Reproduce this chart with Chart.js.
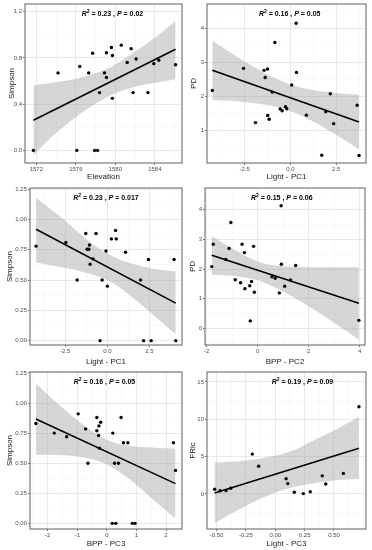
<!DOCTYPE html>
<html>
<head>
<meta charset="utf-8">
<script src="https://cdn.jsdelivr.net/npm/chart.js@4.4.0/dist/chart.umd.min.js"></script>
<style>
  html, body { margin: 0; padding: 0; background: #ffffff; }
  #grid { position: relative; width: 372px; height: 550px; }
  .panel { position: absolute; }
</style>
</head>
<body>
<div id="grid">
  <canvas id="p1" class="panel"></canvas>
  <canvas id="p2" class="panel"></canvas>
  <canvas id="p3" class="panel"></canvas>
  <canvas id="p4" class="panel"></canvas>
  <canvas id="p5" class="panel"></canvas>
  <canvas id="p6" class="panel"></canvas>
</div>
<script>
// ---- Panel 1: Elevation vs Simpson ----
const elevation = [1571.7, 1574.2, 1576.1, 1576.4, 1577.3, 1577.7, 1577.9, 1578.2, 1578.4, 1578.9, 1579.1, 1579.1,
                   1579.6, 1579.7, 1579.7, 1580.6, 1581.2, 1581.6, 1581.8, 1582.1, 1583.3, 1583.9, 1584.4, 1586.1];
const simpsonElev = [0, 0.67, 0, 0.725, 0.67, 0.84, 0, 0, 0.50, 0.67, 0.845, 0.63,
                     0.89, 0.82, 0.45, 0.91, 0.76, 0.88, 0.50, 0.79, 0.50, 0.75, 0.78, 0.74];
const fitX1 = [1571.7, 1586.1];
const fitY1 = [0.26, 0.875];
const bandX1 = [1571.7, 1574, 1576.5, 1579.5, 1582, 1584, 1586.1];
const bandHi1 = [0.565, 0.59, 0.63, 0.72, 0.855, 0.975, 1.12];
const bandLo1 = [-0.04, 0.15, 0.32, 0.475, 0.55, 0.585, 0.615];
const xTicks1 = [1572, 1576, 1580, 1584];
const yTicks1 = [0, 0.4, 0.8, 1.2];

// ---- Panel 2: Light-PC1 vs PD ----
const lightPC1a = [-4.27, -2.56, -1.91, -1.44, -1.38, -1.25, -1.24, -1.16, -1.0, -0.85, -0.56, -0.45,
                   -0.27, -0.2, 0.07, 0.31, 0.33, 0.87, 1.71, 1.93, 2.18, 2.36, 3.65, 3.75];
const pdLight = [2.17, 2.82, 1.22, 2.76, 2.55, 2.80, 1.43, 1.32, 2.12, 3.58, 1.62, 1.57,
                 1.69, 1.63, 2.33, 4.15, 2.70, 1.44, 0.26, 1.54, 2.07, 1.19, 1.73, 0.25];
const fitX2 = [-4.27, 3.75];
const fitY2 = [2.76, 1.235];
const bandX2 = [-4.27, -2.5, -1, -0.06, 1, 2.5, 3.75];
const bandHi2 = [3.63, 3.02, 2.57, 2.35, 2.20, 2.09, 2.04];
const bandLo2 = [1.89, 1.83, 1.71, 1.57, 1.32, 0.86, 0.43];
const xTicks2 = [-2.5, 0, 2.5];
const yTicks2 = [1, 2, 3, 4];

// ---- Panel 3: Light-PC1 vs Simpson ----
const lightPC1b = [-4.23, -2.46, -1.79, -1.28, -1.20, -1.10, -1.06, -1.02, -0.85, -0.67, -0.43, -0.31,
                   -0.08, 0.0, 0.24, 0.49, 0.53, 1.08, 1.97, 2.15, 2.44, 2.60, 3.96, 4.06];
const simpsonLight = [0.78, 0.81, 0.50, 0.885, 0.755, 0.755, 0.79, 0.63, 0.675, 0.885, 0, 0.50,
                      0.74, 0.45, 0.84, 0.91, 0.84, 0.73, 0.50, 0, 0.67, 0, 0.67, 0];
const fitX3 = [-4.23, 4.06];
const fitY3 = [0.92, 0.31];
const bandX3 = [-4.23, -2.5, -1, 0, 1, 2.5, 4.06];
const bandHi3 = [1.18, 0.99, 0.81, 0.72, 0.655, 0.60, 0.57];
const bandLo3 = [0.645, 0.60, 0.55, 0.50, 0.41, 0.24, 0.05];
const xTicks3 = [-2.5, 0, 2.5];
const yTicks3 = [0, 0.25, 0.5, 0.75, 1.0, 1.25];

// ---- Panel 4: BPP-PC2 vs PD ----
const bppPC2 = [-1.80, -1.74, -1.25, -1.12, -1.05, -0.88, -0.67, -0.61, -0.52, -0.50, -0.31, -0.29,
                -0.24, -0.16, -0.13, 0.56, 0.69, 0.85, 0.92, 0.93, 1.06, 1.29, 1.49, 3.97];
const pdBpp = [2.08, 2.83, 2.32, 2.69, 3.56, 1.64, 1.54, 2.83, 2.55, 1.34, 1.44, 0.26,
               1.58, 2.76, 1.22, 1.74, 1.69, 1.20, 4.12, 2.16, 1.42, 1.63, 2.12, 0.28];
const fitX4 = [-1.80, 3.97];
const fitY4 = [2.46, 0.85];
const bandX4 = [-1.80, -1, 0, 0.5, 1, 2, 3, 3.97];
const bandHi4 = [3.11, 2.69, 2.25, 2.14, 2.09, 2.06, 2.06, 2.06];
const bandLo4 = [1.81, 1.77, 1.62, 1.45, 1.25, 0.75, 0.20, -0.37];
const xTicks4 = [-2, 0, 2, 4];
const yTicks4 = [0, 1, 2, 3, 4];

// ---- Panel 5: BPP-PC3 vs Simpson ----
const bppPC3 = [-2.40, -1.78, -1.36, -0.97, -0.72, -0.64, -0.34, -0.34, -0.28, -0.27, -0.25, -0.21,
                0.18, 0.20, 0.26, 0.30, 0.39, 0.48, 0.56, 0.71, 0.86, 0.95, 2.25, 2.32];
const simpsonBpp = [0.83, 0.75, 0.72, 0.91, 0.785, 0.50, 0.88, 0.77, 0.73, 0.81, 0.625, 0.84,
                    0, 0.75, 0.50, 0, 0.50, 0.88, 0.67, 0.67, 0, 0, 0.67, 0.44];
const fitX5 = [-2.40, 2.32];
const fitY5 = [0.867, 0.33];
const bandX5 = [-2.40, -1.5, -0.75, -0.05, 0.75, 1.5, 2.32];
const bandHi5 = [1.16, 0.96, 0.81, 0.70, 0.645, 0.63, 0.62];
const bandLo5 = [0.57, 0.565, 0.545, 0.495, 0.37, 0.21, 0.04];
const xTicks5 = [-2, -1, 0, 1, 2];
const yTicks5 = [0, 0.25, 0.5, 0.75, 1.0, 1.25];

// ---- Panel 6: Light-PC3 vs FRic ----
const lightPC3 = [-0.517, -0.47, -0.42, -0.38, -0.196, -0.142, 0.092, 0.106, 0.162, 0.239, 0.298,
                  0.40, 0.43, 0.58, 0.713];
const fric = [0.62, 0.42, 0.46, 0.75, 5.33, 3.70, 2.04, 1.38, 0.22, 0.04, 0.29,
              2.42, 1.33, 2.75, 11.67];
const fitX6 = [-0.517, 0.713];
const fitY6 = [0.11, 6.12];
const bandX6 = [-0.517, -0.27, 0.0, 0.15, 0.3, 0.5, 0.713];
const bandHi6 = [4.2, 4.45, 5.1, 5.8, 6.95, 8.5, 10.3];
const bandLo6 = [-3.9, -1.75, 0.2, 0.9, 1.35, 1.8, 2.0];
const xTicks6 = [-0.5, -0.25, 0, 0.25, 0.5];
const yTicks6 = [0, 5, 10, 15];

// stat_cor labels
const r2Values = ['0.23', '0.16', '0.23', '0.15', '0.16', '0.19'];
const pValues = ['0.02', '0.05', '0.017', '0.06', '0.05', '0.09'];

const FONT = '"Liberation Sans", Arial, sans-serif';

function pairs(xs, ys) {
    return xs.map((v, i) => ({ x: v, y: ys[i] }));
}

// majors + the half-step minor breaks ggplot draws between them
function withMinors(majors, min, max) {
    const step = majors[1] - majors[0];
    const all = [];
    for (let v = majors[0] - step / 2; v <= max + 1e-9; v += step / 2) {
        if (v >= min - 1e-9) all.push(+v.toFixed(6));
    }
    return all;
}

function isMajor(majors, v) {
    return majors.some(m => Math.abs(m - v) < 1e-6);
}

// frame + R2/P label drawn on top of the plot
const panelDecor = {
    id: 'panelDecor',
    afterDatasetsDraw(chart, args, opts) {
        const { ctx, chartArea: a } = chart;
        ctx.save();
        ctx.strokeStyle = '#7a7a7a';
        ctx.lineWidth = 1.2;
        ctx.strokeRect(a.left, a.top, a.right - a.left, a.bottom - a.top);

        const parts = [
            { t: 'R', f: 'italic bold 7px ' + FONT, dy: 0 },
            { t: '2', f: 'bold 5px ' + FONT, dy: -3 },
            { t: ' = ' + opts.r2 + ' , ', f: 'bold 7px ' + FONT, dy: 0 },
            { t: 'P', f: 'italic bold 7px ' + FONT, dy: 0 },
            { t: ' = ' + opts.p, f: 'bold 7px ' + FONT, dy: 0 }
        ];
        let total = 0;
        parts.forEach(p => { ctx.font = p.f; p.w = ctx.measureText(p.t).width; total += p.w; });
        let x = a.left + opts.fx * (a.right - a.left) - total / 2;
        const y = a.top + opts.dy;
        ctx.fillStyle = '#000000';
        ctx.textBaseline = 'alphabetic';
        parts.forEach(p => {
            ctx.font = p.f;
            ctx.fillText(p.t, x, y + p.dy);
            x += p.w;
        });
        ctx.restore();
    }
};

function makePanel(cfg) {
    const canvas = document.getElementById(cfg.id);
    canvas.width = cfg.w;
    canvas.height = cfg.h;
    canvas.style.left = cfg.left + 'px';
    canvas.style.top = cfg.top + 'px';

    const xAll = withMinors(cfg.xTicks, cfg.xMin, cfg.xMax);
    const yAll = withMinors(cfg.yTicks, cfg.yMin, cfg.yMax);

    const gridFor = majors => ({
        color: c => isMajor(majors, c.tick.value) ? '#e6e6e6' : '#f2f2f2',
        lineWidth: c => isMajor(majors, c.tick.value) ? 0.9 : 0.5,
        tickLength: 2,
        tickColor: c => isMajor(majors, c.tick.value) ? '#555555' : 'rgba(0,0,0,0)',
        tickWidth: 0.8
    });
    const tickFont = { family: FONT, size: 6 };

    new Chart(canvas, {
        type: 'scatter',
        data: {
            datasets: [
                {
                    data: pairs(cfg.xs, cfg.ys),
                    backgroundColor: '#000000',
                    borderWidth: 0,
                    pointRadius: 1.7,
                    order: 0
                },
                {
                    data: pairs(cfg.fitX, cfg.fitY),
                    showLine: true,
                    borderColor: '#000000',
                    borderWidth: 1.6,
                    pointRadius: 0,
                    order: 1
                },
                {
                    data: pairs(cfg.bandX, cfg.bandHi),
                    showLine: true,
                    borderWidth: 0,
                    borderColor: 'rgba(0,0,0,0)',
                    pointRadius: 0,
                    cubicInterpolationMode: 'monotone',
                    fill: '+1',
                    backgroundColor: 'rgba(153,153,153,0.4)',
                    order: 2
                },
                {
                    data: pairs(cfg.bandX, cfg.bandLo),
                    showLine: true,
                    borderWidth: 0,
                    borderColor: 'rgba(0,0,0,0)',
                    pointRadius: 0,
                    cubicInterpolationMode: 'monotone',
                    order: 3
                }
            ]
        },
        options: {
            responsive: false,
            animation: false,
            events: [],
            layout: { padding: { left: 0, right: cfg.padR, top: cfg.padT, bottom: 0 } },
            plugins: {
                legend: { display: false },
                tooltip: { enabled: false },
                panelDecor: { r2: cfg.r2, p: cfg.p, fx: cfg.labelFx, dy: 12 }
            },
            scales: {
                x: {
                    type: 'linear',
                    min: cfg.xMin,
                    max: cfg.xMax,
                    afterBuildTicks: s => { s.ticks = xAll.map(v => ({ value: v })); },
                    afterFit: s => { s.height = cfg.xAxisH; s.paddingLeft = 0; s.paddingRight = 0; },
                    ticks: {
                        autoSkip: false,
                        maxRotation: 0,
                        padding: 1,
                        color: '#4d4d4d',
                        font: tickFont,
                        callback: v => isMajor(cfg.xTicks, v) ? v.toFixed(cfg.xDec) : ''
                    },
                    grid: gridFor(cfg.xTicks),
                    border: { display: false },
                    title: {
                        display: true,
                        text: cfg.xTitle,
                        color: '#1a1a1a',
                        font: { family: FONT, size: 8 },
                        padding: { top: 0, bottom: cfg.xTitlePad }
                    }
                },
                y: {
                    type: 'linear',
                    min: cfg.yMin,
                    max: cfg.yMax,
                    afterBuildTicks: s => { s.ticks = yAll.map(v => ({ value: v })); },
                    afterFit: s => { s.width = cfg.yAxisW; s.paddingTop = 0; s.paddingBottom = 0; },
                    ticks: {
                        autoSkip: false,
                        padding: 1,
                        color: '#4d4d4d',
                        font: tickFont,
                        callback: v => isMajor(cfg.yTicks, v) ? v.toFixed(cfg.yDec) : ''
                    },
                    grid: gridFor(cfg.yTicks),
                    border: { display: false },
                    title: {
                        display: true,
                        text: cfg.yTitle,
                        color: '#1a1a1a',
                        font: { family: FONT, size: 8 },
                        padding: { top: cfg.yTitlePad, bottom: 0 }
                    }
                }
            }
        },
        plugins: [panelDecor]
    });
}

document.addEventListener('DOMContentLoaded', function() {
    const panels = [
        { id: 'p1', left: 0, top: 0, w: 186, h: 184, yAxisW: 25, padR: 3, padT: 4, xAxisH: 21,
          xs: elevation, ys: simpsonElev, fitX: fitX1, fitY: fitY1, bandX: bandX1, bandHi: bandHi1, bandLo: bandLo1,
          xTicks: xTicks1, yTicks: yTicks1, xMin: 1570.85, xMax: 1586.75, yMin: -0.109, yMax: 1.266, xDec: 0, yDec: 1,
          xTitle: 'Elevation', yTitle: 'Simpson', xTitlePad: 2.2, yTitlePad: 7, labelFx: 0.557 },
        { id: 'p2', left: 186, top: 0, w: 186, h: 184, yAxisW: 21, padR: 6, padT: 4, xAxisH: 21,
          xs: lightPC1a, ys: pdLight, fitX: fitX2, fitY: fitY2, bandX: bandX2, bandHi: bandHi2, bandLo: bandLo2,
          xTicks: xTicks2, yTicks: yTicks2, xMin: -4.56, xMax: 4.13, yMin: 0.03, yMax: 4.716, xDec: 1, yDec: 0,
          xTitle: 'Light - PC1', yTitle: 'PD', xTitlePad: 2.2, yTitlePad: 3, labelFx: 0.52 },
        { id: 'p3', left: 0, top: 184, w: 186, h: 184, yAxisW: 30, padR: 3, padT: 4, xAxisH: 23,
          xs: lightPC1b, ys: simpsonLight, fitX: fitX3, fitY: fitY3, bandX: bandX3, bandHi: bandHi3, bandLo: bandLo3,
          xTicks: xTicks3, yTicks: yTicks3, xMin: -4.59, xMax: 4.43, yMin: -0.036, yMax: 1.26, xDec: 1, yDec: 2,
          xTitle: 'Light - PC1', yTitle: 'Simpson', xTitlePad: 1.2, yTitlePad: 5, labelFx: 0.50 },
        { id: 'p4', left: 186, top: 184, w: 186, h: 184, yAxisW: 19, padR: 7, padT: 4, xAxisH: 23,
          xs: bppPC2, ys: pdBpp, fitX: fitX4, fitY: fitY4, bandX: bandX4, bandHi: bandHi4, bandLo: bandLo4,
          xTicks: xTicks4, yTicks: yTicks4, xMin: -2.065, xMax: 4.21, yMin: -0.547, yMax: 4.715, xDec: 0, yDec: 0,
          xTitle: 'BPP - PC2', yTitle: 'PD', xTitlePad: 1.5, yTitlePad: 2, labelFx: 0.48 },
        { id: 'p5', left: 0, top: 368, w: 186, h: 182, yAxisW: 30, padR: 3, padT: 3, xAxisH: 21,
          xs: bppPC3, ys: simpsonBpp, fitX: fitX5, fitY: fitY5, bandX: bandX5, bandHi: bandHi5, bandLo: bandLo5,
          xTicks: xTicks5, yTicks: yTicks5, xMin: -2.6, xMax: 2.54, yMin: -0.047, yMax: 1.258, xDec: 0, yDec: 2,
          xTitle: 'BPP - PC3', yTitle: 'Simpson', xTitlePad: 1.2, yTitlePad: 5, labelFx: 0.49 },
        { id: 'p6', left: 186, top: 368, w: 186, h: 182, yAxisW: 21, padR: 6, padT: 3, xAxisH: 21,
          xs: lightPC3, ys: fric, fitX: fitX6, fitY: fitY6, bandX: bandX6, bandHi: bandHi6, bandLo: bandLo6,
          xTicks: xTicks6, yTicks: yTicks6, xMin: -0.582, xMax: 0.773, yMin: -4.7, yMax: 16.33, xDec: 2, yDec: 0,
          xTitle: 'Light - PC3', yTitle: 'FRic', xTitlePad: 1.5, yTitlePad: 2, labelFx: 0.60 }
    ];
    panels.forEach((cfg, i) => {
        cfg.r2 = r2Values[i];
        cfg.p = pValues[i];
        makePanel(cfg);
    });
});
</script>
</body>
</html>
